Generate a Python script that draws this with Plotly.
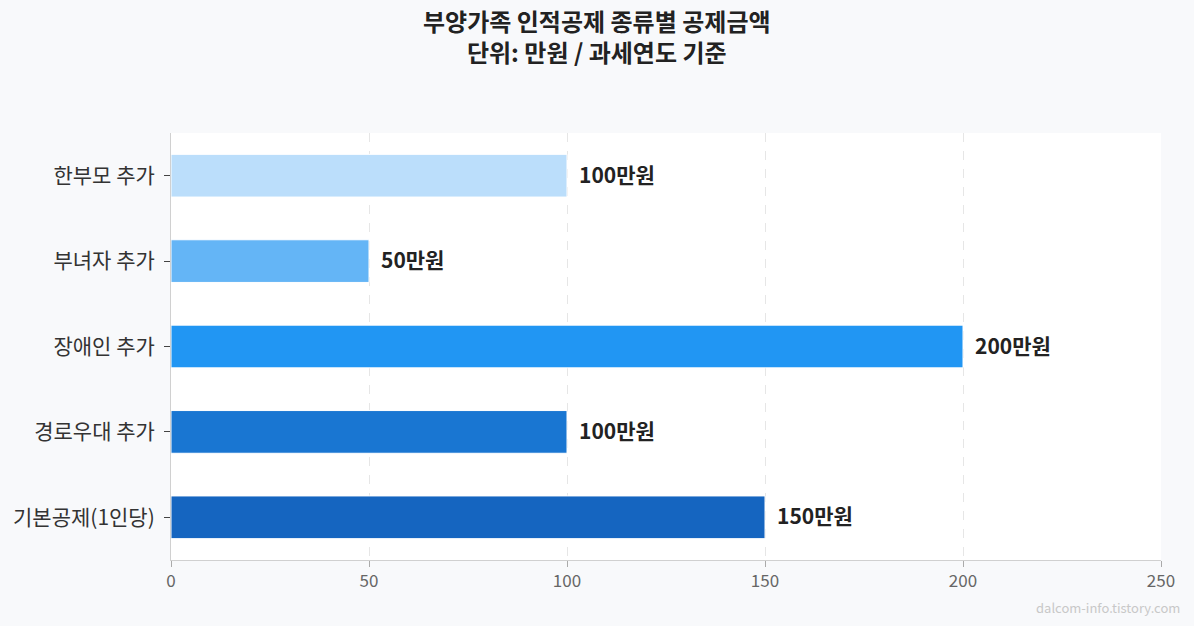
import plotly.graph_objects as go

# 부양가족 인적공제 항목 (아래에서 위 순서)
categories = ["기본공제(1인당)", "경로우대 추가", "장애인 추가", "부녀자 추가", "한부모 추가"]
amounts = [150, 100, 200, 50, 100]
bar_colors = ["#1565C0", "#1976D2", "#2196F3", "#64B5F6", "#BBDEFB"]
x_ticks = [0, 50, 100, 150, 200, 250]

title_lines = ["부양가족 인적공제 종류별 공제금액", "단위: 만원 / 과세연도 기준"]

font_family = "Noto Sans CJK KR"

fig = go.Figure(go.Bar(
    x=amounts,
    y=categories,
    orientation="h",
    width=0.5,
    marker=dict(color=bar_colors, line=dict(color="white", width=1)),
    hovertemplate="%{y}: %{x}만원<extra></extra>",
))

# 막대 끝 값 라벨
for cat, val in zip(categories, amounts):
    fig.add_annotation(
        x=val, y=cat, text=f"<b>{val}만원</b>",
        xanchor="left", xshift=10, yshift=2, showarrow=False,
        font=dict(size=21, color="#222222"),
    )

# 제목 (두 줄)
fig.add_annotation(
    text="<br>".join(f"<b>{line}</b>" for line in title_lines),
    xref="paper", yref="paper", x=0.43, y=1.228,
    xanchor="center", yanchor="middle", showarrow=False,
    font=dict(size=24, color="#222222"),
)

fig.update_layout(
    width=1194,
    height=626,
    paper_bgcolor="#F8F9FB",
    plot_bgcolor="white",
    font=dict(family=font_family, color="#333333"),
    margin=dict(l=171, r=33, t=133, b=66, autoexpand=False),
    showlegend=False,
)

fig.update_xaxes(
    range=[0, 250],
    tickvals=x_ticks,
    ticks="outside",
    ticklen=6,
    tickcolor="#AAAAAA",
    tickfont=dict(size=17, color="#666666"),
    showgrid=True,
    gridcolor="#E6E6E6",
    griddash="dash",
    gridwidth=1,
    showline=True,
    linecolor="#D0D0D0",
    zeroline=False,
    automargin=False,
)

fig.update_yaxes(
    ticks="outside",
    ticklen=6,
    tickcolor="#444444",
    ticklabelstandoff=5,
    tickfont=dict(size=21, color="#333333"),
    showgrid=False,
    showline=True,
    linecolor="#D0D0D0",
    automargin=False,
)

fig.add_annotation(
    text="dalcom-info.tistory.com",
    xref="paper", yref="paper",
    x=1.021, y=-0.085, xanchor="right", yanchor="top",
    showarrow=False,
    font=dict(size=13, color="#C8C8C8"),
)

fig.write_html(
    "out.html",
    config={"displayModeBar": False},
    post_script="document.body.style.margin='0';",
)
